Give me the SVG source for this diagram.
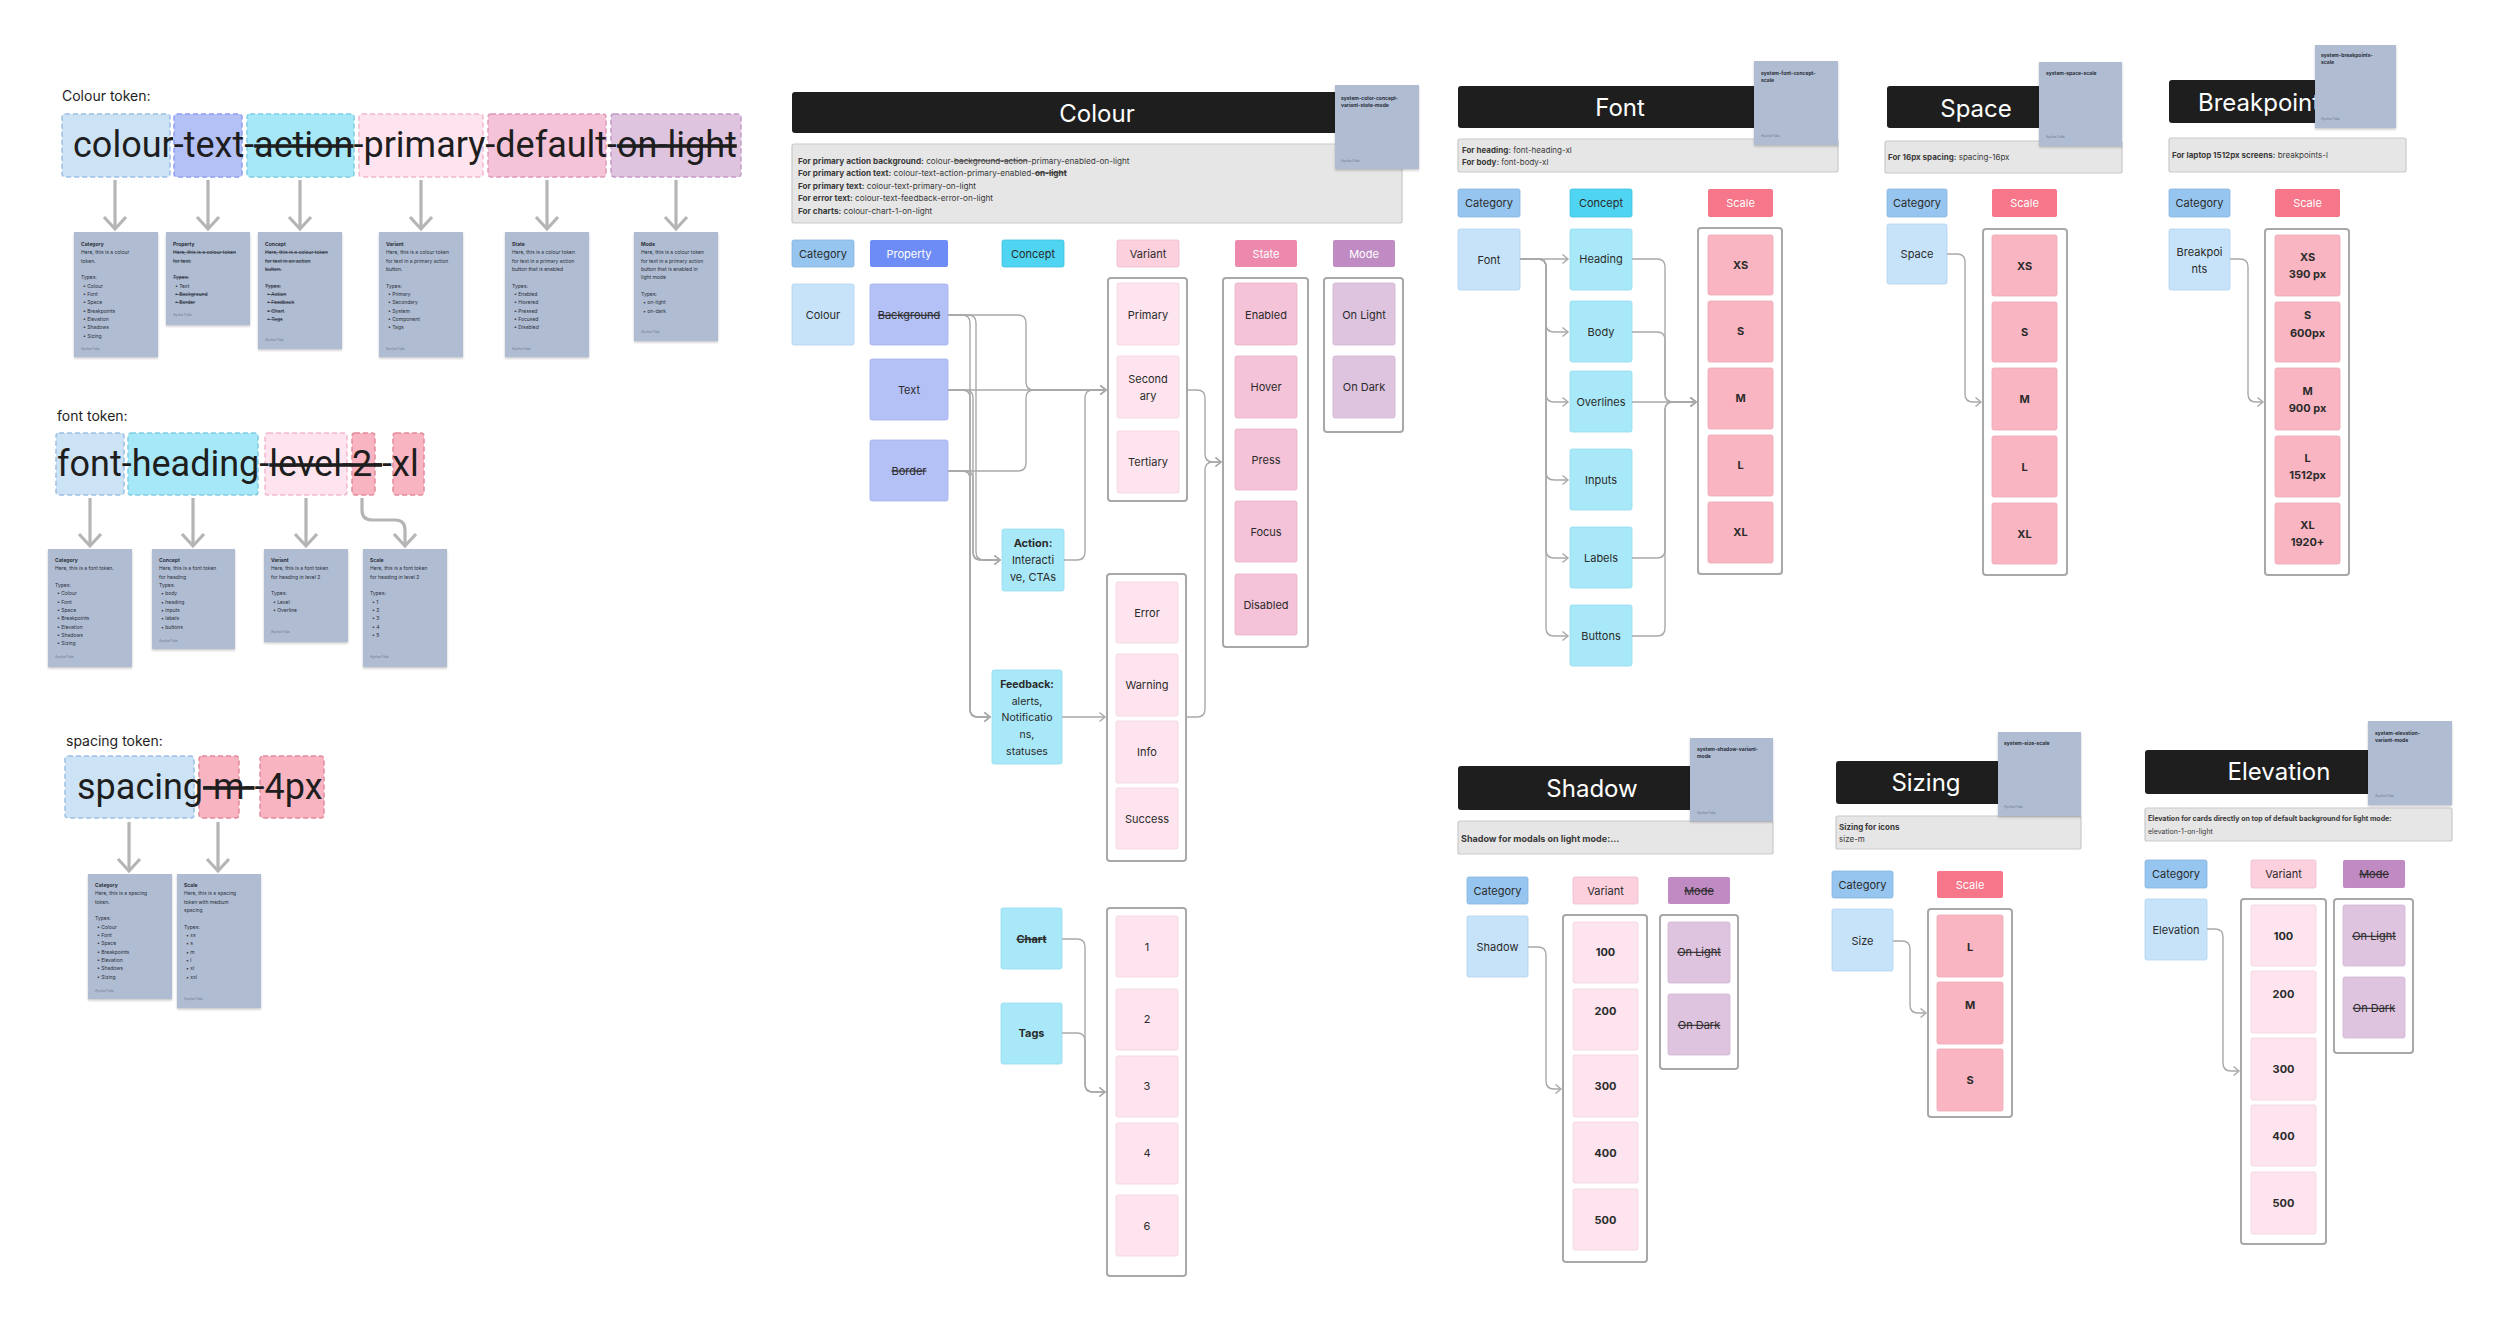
<svg xmlns="http://www.w3.org/2000/svg" width="2500" height="1322" viewBox="0 0 2500 1322">
<defs>
<style>
text{font-family:Inter,"Noto Sans","Liberation Sans",sans-serif;}
.ttl{font-size:14px;fill:#1e1e1e}
.big{font-family:Roboto,"Liberation Sans",sans-serif;font-size:36px;fill:#1e1e1e}
.s{text-decoration:line-through}
.b{font-weight:700}
.card{fill:#afbcd2;filter:url(#sh)}
.ct{font-size:5px;fill:#2a2f3a}
.au{font-size:3.6px;fill:#6f7a8d;font-weight:400}
.tok{stroke-width:1.5;stroke-dasharray:5 3}
.hdr{fill:#1e1e1e}
.ht{font-size:24px;fill:#ffffff;text-anchor:middle}
.desc{fill:#e6e6e6;stroke:#c9c9c9;stroke-width:1.2}
.dt{font-size:8px;fill:#3a3a3a}
.frame{fill:#ffffff;stroke:#a8a8a8;stroke-width:2}
.lbl{font-size:11px;fill:#2b2b2b;text-anchor:middle}
.lw{font-size:11px;fill:#ffffff;text-anchor:middle}
.cat{fill:#c6e3fa;stroke:#b2d2ee;stroke-width:.8}
.cath{fill:#96c5ef;stroke:#86b4de;stroke-width:.8}
.prop{fill:#b4c1f7;stroke:#a3b1ee;stroke-width:.8}
.proph{fill:#6d8cf5}
.con{fill:#a8e8f8;stroke:#95dcef;stroke-width:.8}
.conh{fill:#4fd4f2;stroke:#3fc3e1;stroke-width:.8}
.var{fill:#fde4ee;stroke:#f3d2df;stroke-width:.8}
.varh{fill:#fdd0de;stroke:#eebccd;stroke-width:.8}
.st{fill:#f4c3d8;stroke:#e9b2ca;stroke-width:.8}
.sth{fill:#ee89ae}
.md{fill:#dfc4e0;stroke:#d2b4d4;stroke-width:.8}
.mdh{fill:#c08bc3}
.sc{fill:#f9b6c2;stroke:#eea7b4;stroke-width:.8}
.sch{fill:#f6768a}
.sys{font-size:5px;fill:#2a2f3a;font-weight:700}
.c{fill:none;stroke:#a9a9a9;stroke-width:1.4}
.ba{fill:none;stroke:#b5b5b5;stroke-width:3.2}
</style>
<filter id="sh" x="-10%" y="-10%" width="120%" height="120%"><feDropShadow dx="0" dy="1.5" stdDeviation="1.2" flood-opacity="0.22"/></filter>
<marker id="ah" markerUnits="userSpaceOnUse" markerWidth="12" markerHeight="12" viewBox="-8 -6 10 12" refX="0" refY="0" orient="auto"><path d="M-5.5,-4.5 L0,0 L-5.5,4.5" fill="none" stroke="#a9a9a9" stroke-width="1.4"/></marker>
<marker id="bh" markerUnits="userSpaceOnUse" markerWidth="30" markerHeight="30" viewBox="-16 -15 18 30" refX="0" refY="0" orient="auto"><path d="M-12,-11 L0,0 L-12,11" fill="none" stroke="#b5b5b5" stroke-width="3.2"/></marker>
</defs>
<rect width="2500" height="1322" fill="#ffffff"/>

<!-- ===== Colour token ===== -->
<g id="colour-token">
<text class="ttl" x="62" y="101">Colour token:</text>
<rect class="tok" x="62" y="114" width="108" height="63" rx="3" fill="#cce3f6" stroke="#9dbfe2"/>
<rect class="tok" x="174" y="114" width="68" height="63" rx="3" fill="#b4c1f7" stroke="#8f9ff0"/>
<rect class="tok" x="247" y="114" width="107" height="63" rx="3" fill="#a6e8f8" stroke="#7fcde2"/>
<rect class="tok" x="359" y="114" width="124" height="63" rx="3" fill="#fde4ee" stroke="#f3b6cd"/>
<rect class="tok" x="488" y="114" width="118" height="63" rx="3" fill="#f4c3d8" stroke="#df98b8"/>
<rect class="tok" x="611" y="114" width="130" height="63" rx="3" fill="#dfc4e0" stroke="#c39bc6"/>
<text class="big" x="73" y="157">colour-text-<tspan class="s">action</tspan>-primary-default-<tspan class="s">on-light</tspan></text>
</g>
<g id="ct-card-category"><rect class="card" x="74" y="232" width="84" height="125"/>
<text class="ct"><tspan x="81" y="246" class="b">Category</tspan><tspan x="81" y="254.3">Here, this is a colour</tspan><tspan x="81" y="262.7">token.</tspan><tspan x="81" y="279.3">Types:</tspan><tspan x="83" y="287.7">• Colour</tspan><tspan x="83" y="296">• Font</tspan><tspan x="83" y="304.3">• Space</tspan><tspan x="83" y="312.7">• Breakpoints</tspan><tspan x="83" y="321">• Elevation</tspan><tspan x="83" y="329.3">• Shadows</tspan><tspan x="83" y="337.7">• Sizing</tspan><tspan x="81" y="349.5" class="au">Aysha Fida</tspan></text></g>
<g id="ct-card-property"><rect class="card" x="166" y="232" width="84" height="93"/>
<text class="ct"><tspan x="173" y="246" class="b">Property</tspan><tspan x="173" y="254.3" class="s">Here, this is a colour token</tspan><tspan x="173" y="262.7" class="s">for text.</tspan><tspan x="173" y="279.3" class="s">Types:</tspan><tspan x="175" y="287.7">• Text</tspan><tspan x="175" y="296" class="s">• Background</tspan><tspan x="175" y="304.3" class="s">• Border</tspan><tspan x="173" y="316" class="au">Aysha Fida</tspan></text></g>
<g id="ct-card-concept"><rect class="card" x="258" y="232" width="84" height="117"/>
<text class="ct"><tspan x="265" y="246" class="b">Concept</tspan><tspan x="265" y="254.3" class="s">Here, this is a colour token</tspan><tspan x="265" y="262.7" class="s">for text in an action</tspan><tspan x="265" y="271" class="s">button.</tspan><tspan x="265" y="287.7" class="s">Types:</tspan><tspan x="267" y="296" class="s">• Action</tspan><tspan x="267" y="304.3" class="s">• Feedback</tspan><tspan x="267" y="312.7" class="s">• Chart</tspan><tspan x="267" y="321" class="s">• Tags</tspan><tspan x="265" y="341" class="au">Aysha Fida</tspan></text></g>
<g id="ct-card-variant"><rect class="card" x="379" y="232" width="84" height="125"/>
<text class="ct"><tspan x="386" y="246" class="b">Variant</tspan><tspan x="386" y="254.3">Here, this is a colour token</tspan><tspan x="386" y="262.7">for text in a primary action</tspan><tspan x="386" y="271">button.</tspan><tspan x="386" y="287.7">Types:</tspan><tspan x="388" y="296">• Primary</tspan><tspan x="388" y="304.3">• Secondary</tspan><tspan x="388" y="312.7">• System</tspan><tspan x="388" y="321">• Component</tspan><tspan x="388" y="329.3">• Tags</tspan><tspan x="386" y="349.5" class="au">Aysha Fida</tspan></text></g>
<g id="ct-card-state"><rect class="card" x="505" y="232" width="84" height="125"/>
<text class="ct"><tspan x="512" y="246" class="b">State</tspan><tspan x="512" y="254.3">Here, this is a colour token</tspan><tspan x="512" y="262.7">for text in a primary action</tspan><tspan x="512" y="271">button that is enabled</tspan><tspan x="512" y="287.7">Types:</tspan><tspan x="514" y="296">• Enabled</tspan><tspan x="514" y="304.3">• Hovered</tspan><tspan x="514" y="312.7">• Pressed</tspan><tspan x="514" y="321">• Focused</tspan><tspan x="514" y="329.3">• Disabled</tspan><tspan x="512" y="349.5" class="au">Aysha Fida</tspan></text></g>
<g id="ct-card-mode"><rect class="card" x="634" y="232" width="84" height="109"/>
<text class="ct"><tspan x="641" y="246" class="b">Mode</tspan><tspan x="641" y="254.3">Here, this is a colour token</tspan><tspan x="641" y="262.7">for text in a primary action</tspan><tspan x="641" y="271">button that is enabled in</tspan><tspan x="641" y="279.3">light mode</tspan><tspan x="641" y="296">Types:</tspan><tspan x="643" y="304.3">• on-light</tspan><tspan x="643" y="312.7">• on-dark</tspan><tspan x="641" y="333" class="au">Aysha Fida</tspan></text></g>

<!-- ===== font token ===== -->
<g id="font-token">
<text class="ttl" x="57" y="421">font token:</text>
<rect class="tok" x="56" y="433" width="68" height="62" rx="3" fill="#cce3f6" stroke="#9dbfe2"/>
<rect class="tok" x="128" y="433" width="130" height="62" rx="3" fill="#a6e8f8" stroke="#7fcde2"/>
<rect class="tok" x="265" y="433" width="82" height="62" rx="3" fill="#fde4ee" stroke="#f3b6cd"/>
<rect class="tok" x="352" y="433" width="23" height="62" rx="3" fill="#f8b4c0" stroke="#e2899b"/>
<rect class="tok" x="393" y="433" width="31" height="62" rx="3" fill="#f8b4c0" stroke="#e2899b"/>
<text class="big" x="57" y="476">font-heading-<tspan class="s">level-2-</tspan>-xl</text>
</g>
<g id="ft-card-category"><rect class="card" x="48" y="549" width="84" height="118"/>
<text class="ct"><tspan x="55" y="562" class="b">Category</tspan><tspan x="55" y="570.3">Here, this is a font token.</tspan><tspan x="55" y="587">Types:</tspan><tspan x="57" y="595.3">• Colour</tspan><tspan x="57" y="603.7">• Font</tspan><tspan x="57" y="612">• Space</tspan><tspan x="57" y="620.3">• Breakpoints</tspan><tspan x="57" y="628.7">• Elevation</tspan><tspan x="57" y="637">• Shadows</tspan><tspan x="57" y="645.3">• Sizing</tspan><tspan x="55" y="658" class="au">Aysha Fida</tspan></text></g>
<g id="ft-card-concept"><rect class="card" x="152" y="549" width="83" height="100"/>
<text class="ct"><tspan x="159" y="562" class="b">Concept</tspan><tspan x="159" y="570.3">Here, this is a font token</tspan><tspan x="159" y="578.7">for heading</tspan><tspan x="159" y="587">Types:</tspan><tspan x="161" y="595.3">• body</tspan><tspan x="161" y="603.7">• heading</tspan><tspan x="161" y="612">• inputs</tspan><tspan x="161" y="620.3">• labels</tspan><tspan x="161" y="628.7">• buttons</tspan><tspan x="159" y="641.5" class="au">Aysha Fida</tspan></text></g>
<g id="ft-card-variant"><rect class="card" x="264" y="549" width="84" height="93"/>
<text class="ct"><tspan x="271" y="562" class="b">Variant</tspan><tspan x="271" y="570.3">Here, this is a font token</tspan><tspan x="271" y="578.7">for heading in level 2</tspan><tspan x="271" y="595.3">Types:</tspan><tspan x="273" y="603.7">• Level</tspan><tspan x="273" y="612">• Overline</tspan><tspan x="271" y="633" class="au">Aysha Fida</tspan></text></g>
<g id="ft-card-scale"><rect class="card" x="363" y="549" width="84" height="118"/>
<text class="ct"><tspan x="370" y="562" class="b">Scale</tspan><tspan x="370" y="570.3">Here, this is a font token</tspan><tspan x="370" y="578.7">for heading in level 2</tspan><tspan x="370" y="595.3">Types:</tspan><tspan x="372" y="603.7">• 1</tspan><tspan x="372" y="612">• 2</tspan><tspan x="372" y="620.3">• 3</tspan><tspan x="372" y="628.7">• 4</tspan><tspan x="372" y="637">• 5</tspan><tspan x="370" y="658" class="au">Aysha Fida</tspan></text></g>

<!-- ===== spacing token ===== -->
<g id="spacing-token">
<text class="ttl" x="66" y="746">spacing token:</text>
<rect class="tok" x="65" y="756" width="129" height="62" rx="3" fill="#cce3f6" stroke="#9dbfe2"/>
<rect class="tok" x="199" y="756" width="40" height="62" rx="3" fill="#f8b4c0" stroke="#e2899b"/>
<rect class="tok" x="260" y="756" width="64" height="62" rx="3" fill="#f8b4c0" stroke="#e2899b"/>
<text class="big" x="77" y="799">spacing<tspan class="s">-m-</tspan>-4px</text>
</g>
<g id="sp-card-category"><rect class="card" x="88" y="874" width="84" height="125"/>
<text class="ct"><tspan x="95" y="887" class="b">Category</tspan><tspan x="95" y="895.3">Here, this is a spacing</tspan><tspan x="95" y="903.7">token.</tspan><tspan x="95" y="920.3">Types:</tspan><tspan x="97" y="928.7">• Colour</tspan><tspan x="97" y="937">• Font</tspan><tspan x="97" y="945.3">• Space</tspan><tspan x="97" y="953.7">• Breakpoints</tspan><tspan x="97" y="962">• Elevation</tspan><tspan x="97" y="970.3">• Shadows</tspan><tspan x="97" y="978.7">• Sizing</tspan><tspan x="95" y="991.5" class="au">Aysha Fida</tspan></text></g>
<g id="sp-card-scale"><rect class="card" x="177" y="874" width="84" height="134"/>
<text class="ct"><tspan x="184" y="887" class="b">Scale</tspan><tspan x="184" y="895.3">Here, this is a spacing</tspan><tspan x="184" y="903.7">token with medium</tspan><tspan x="184" y="912">spacing</tspan><tspan x="184" y="928.7">Types:</tspan><tspan x="186" y="937">• xs</tspan><tspan x="186" y="945.3">• s</tspan><tspan x="186" y="953.7">• m</tspan><tspan x="186" y="962">• l</tspan><tspan x="186" y="970.3">• xl</tspan><tspan x="186" y="978.7">• xxl</tspan><tspan x="184" y="1000" class="au">Aysha Fida</tspan></text></g>

<!-- ===== Colour section ===== -->
<g id="colour-header"><rect class="hdr" x="792" y="92" width="610" height="41" rx="3"/><text class="ht" x="1097" y="122">Colour</text></g>
<g id="colour-desc"><rect class="desc" x="792" y="144" width="610" height="79" rx="2"/>
<text class="dt" style="font-size:8.2px"><tspan x="798" y="163.5"><tspan class="b">For primary action background:</tspan> colour-<tspan class="s">background-action</tspan>-primary-enabled-on-light</tspan><tspan x="798" y="175.5"><tspan class="b">For primary action text:</tspan> colour-text-action-primary-enabled-<tspan class="s b">on-light</tspan></tspan><tspan x="798" y="188.5"><tspan class="b">For primary text:</tspan> colour-text-primary-on-light</tspan><tspan x="798" y="200.5"><tspan class="b">For error text:</tspan> colour-text-feedback-error-on-light</tspan><tspan x="798" y="213.5"><tspan class="b">For charts:</tspan> colour-chart-1-on-light</tspan></text></g>
<g id="colour-sys"><rect class="card" x="1335" y="85" width="84" height="84"/><text class="sys"><tspan x="1341" y="100">system-color-concept-</tspan><tspan x="1341" y="107">variant-state-mode</tspan><tspan x="1341" y="162" class="au">Aysha Fida</tspan></text></g>
<g id="c-h-category"><rect class="cath" x="792" y="240" width="62" height="27" rx="2"/><text class="lbl" x="823" y="257.5">Category</text></g>
<g id="c-h-property"><rect class="proph" x="870" y="240" width="78" height="27" rx="2"/><text class="lw" x="909" y="257.5">Property</text></g>
<g id="c-h-concept"><rect class="conh" x="1002" y="240" width="62" height="27" rx="2"/><text class="lbl" x="1033" y="257.5">Concept</text></g>
<g id="c-h-variant"><rect class="varh" x="1117" y="240" width="62" height="27" rx="2"/><text class="lbl" x="1148" y="257.5">Variant</text></g>
<g id="c-h-state"><rect class="sth" x="1235" y="240" width="62" height="27" rx="2"/><text class="lw" x="1266" y="257.5">State</text></g>
<g id="c-h-mode"><rect class="mdh" x="1333" y="240" width="62" height="27" rx="2"/><text class="lw" x="1364" y="257.5">Mode</text></g>
<g id="c-colour"><rect class="cat" x="792" y="284" width="62" height="61" rx="2"/><text class="lbl" x="823" y="319">Colour</text></g>
<g id="c-background"><rect class="prop" x="870" y="284" width="78" height="61" rx="2"/><text class="lbl s" x="909" y="319">Background</text></g>
<g id="c-text"><rect class="prop" x="870" y="359" width="78" height="61" rx="2"/><text class="lbl" x="909" y="394">Text</text></g>
<g id="c-border"><rect class="prop" x="870" y="440" width="78" height="61" rx="2"/><text class="lbl s" x="909" y="474.7">Border</text></g>
<g id="c-action"><rect class="con" x="1002" y="529" width="62" height="62" rx="2"/><text class="lbl"><tspan x="1033" y="547.3" class="b">Action:</tspan><tspan x="1033" y="564">Interacti</tspan><tspan x="1033" y="580.7">ve, CTAs</tspan></text></g>
<g id="c-feedback"><rect class="con" x="992" y="670" width="70" height="94" rx="2"/><text class="lbl" style="font-size:10.5px"><tspan x="1027" y="688.3" class="b">Feedback:</tspan><tspan x="1027" y="704.8">alerts,</tspan><tspan x="1027" y="721.3">Notificatio</tspan><tspan x="1027" y="738.3">ns,</tspan><tspan x="1027" y="754.8">statuses</tspan></text></g>
<g id="c-chart"><rect class="con" x="1001" y="908" width="61" height="61" rx="2"/><text class="lbl b s" x="1031.5" y="943">Chart</text></g>
<g id="c-tags"><rect class="con" x="1001" y="1003" width="61" height="61" rx="2"/><text class="lbl b" x="1031.5" y="1037.4">Tags</text></g>
<g id="c-variant-group1"><rect class="frame" x="1108" y="278" width="79" height="223" rx="3"/>
<rect class="var" x="1117" y="283" width="62" height="62" rx="2"/><text class="lbl" x="1148" y="319">Primary</text>
<rect class="var" x="1117" y="356" width="62" height="62" rx="2"/><text class="lbl"><tspan x="1148" y="383">Second</tspan><tspan x="1148" y="399.7">ary</tspan></text>
<rect class="var" x="1117" y="431" width="62" height="62" rx="2"/><text class="lbl" x="1148" y="466.3">Tertiary</text></g>
<g id="c-variant-group2"><rect class="frame" x="1107" y="574" width="79" height="287" rx="3"/>
<rect class="var" x="1116" y="582" width="62" height="61" rx="2"/><text class="lbl" x="1147" y="616.8">Error</text>
<rect class="var" x="1116" y="654" width="62" height="62" rx="2"/><text class="lbl" x="1147" y="689.2">Warning</text>
<rect class="var" x="1116" y="721" width="62" height="62" rx="2"/><text class="lbl" x="1147" y="756">Info</text>
<rect class="var" x="1116" y="788" width="62" height="61" rx="2"/><text class="lbl" x="1147" y="823">Success</text></g>
<g id="c-variant-group3"><rect class="frame" x="1107" y="908" width="79" height="368" rx="3"/>
<rect class="var" x="1116" y="916" width="62" height="61" rx="2"/><text class="lbl" x="1147" y="951">1</text>
<rect class="var" x="1116" y="989" width="62" height="61" rx="2"/><text class="lbl" x="1147" y="1023">2</text>
<rect class="var" x="1116" y="1056" width="62" height="61" rx="2"/><text class="lbl" x="1147" y="1090">3</text>
<rect class="var" x="1116" y="1123" width="62" height="61" rx="2"/><text class="lbl" x="1147" y="1157">4</text>
<rect class="var" x="1116" y="1195" width="62" height="61" rx="2"/><text class="lbl" x="1147" y="1229.6">6</text></g>
<g id="c-state-group"><rect class="frame" x="1223" y="278" width="85" height="369" rx="3"/>
<rect class="st" x="1235" y="283" width="62" height="62" rx="2"/><text class="lbl" x="1266" y="319">Enabled</text>
<rect class="st" x="1235" y="356" width="62" height="62" rx="2"/><text class="lbl" x="1266" y="391.3">Hover</text>
<rect class="st" x="1235" y="429" width="62" height="61" rx="2"/><text class="lbl" x="1266" y="464">Press</text>
<rect class="st" x="1235" y="501" width="62" height="61" rx="2"/><text class="lbl" x="1266" y="536.3">Focus</text>
<rect class="st" x="1235" y="574" width="62" height="61" rx="2"/><text class="lbl" x="1266" y="609">Disabled</text></g>
<g id="c-mode-group"><rect class="frame" x="1324" y="278" width="79" height="154" rx="3"/>
<rect class="md" x="1333" y="283" width="62" height="62" rx="2"/><text class="lbl" x="1364" y="319">On Light</text>
<rect class="md" x="1333" y="356" width="62" height="62" rx="2"/><text class="lbl" x="1364" y="391.3">On Dark</text></g>

<!-- ===== Font section ===== -->
<g id="font-header"><rect class="hdr" x="1458" y="86" width="300" height="42" rx="3"/><text class="ht" x="1620" y="116">Font</text></g>
<g id="font-desc"><rect class="desc" x="1458" y="139" width="380" height="33" rx="2"/><text class="dt"><tspan x="1462" y="152.5"><tspan class="b">For heading:</tspan> font-heading-xl</tspan><tspan x="1462" y="165"><tspan class="b">For body:</tspan> font-body-xl</tspan></text></g>
<g id="font-sys"><rect class="card" x="1754" y="61" width="84" height="84"/><text class="sys"><tspan x="1761" y="75">system-font-concept-</tspan><tspan x="1761" y="82">scale</tspan><tspan x="1761" y="137" class="au">Aysha Fida</tspan></text></g>
<g id="f-h-category"><rect class="cath" x="1458" y="189" width="62" height="28" rx="2"/><text class="lbl" x="1489" y="207">Category</text></g>
<g id="f-h-concept"><rect class="conh" x="1570" y="189" width="62" height="28" rx="2"/><text class="lbl" x="1601" y="207">Concept</text></g>
<g id="f-h-scale"><rect class="sch" x="1708" y="189" width="65" height="28" rx="2"/><text class="lw" x="1740.5" y="207">Scale</text></g>
<g id="f-font"><rect class="cat" x="1458" y="229" width="62" height="61" rx="2"/><text class="lbl" x="1489" y="263.5">Font</text></g>
<g id="f-heading"><rect class="con" x="1570" y="229" width="62" height="61" rx="2"/><text class="lbl" x="1601" y="263">Heading</text></g>
<g id="f-body"><rect class="con" x="1570" y="301" width="62" height="61" rx="2"/><text class="lbl" x="1601" y="335.5">Body</text></g>
<g id="f-overlines"><rect class="con" x="1570" y="371" width="62" height="61" rx="2"/><text class="lbl" x="1601" y="405.5">Overlines</text></g>
<g id="f-inputs"><rect class="con" x="1570" y="449" width="62" height="61" rx="2"/><text class="lbl" x="1601" y="483.5">Inputs</text></g>
<g id="f-labels"><rect class="con" x="1570" y="527" width="62" height="61" rx="2"/><text class="lbl" x="1601" y="561.5">Labels</text></g>
<g id="f-buttons"><rect class="con" x="1570" y="605" width="62" height="61" rx="2"/><text class="lbl" x="1601" y="639.5">Buttons</text></g>
<g id="f-scale-group"><rect class="frame" x="1698" y="228" width="84" height="346" rx="3"/>
<rect class="sc" x="1708" y="235" width="65" height="60" rx="2"/><text class="lbl b" x="1740.5" y="269">XS</text>
<rect class="sc" x="1708" y="301" width="65" height="61" rx="2"/><text class="lbl b" x="1740.5" y="335">S</text>
<rect class="sc" x="1708" y="368" width="65" height="61" rx="2"/><text class="lbl b" x="1740.5" y="402">M</text>
<rect class="sc" x="1708" y="435" width="65" height="61" rx="2"/><text class="lbl b" x="1740.5" y="469">L</text>
<rect class="sc" x="1708" y="502" width="65" height="61" rx="2"/><text class="lbl b" x="1740.5" y="536">XL</text></g>

<!-- ===== Space section ===== -->
<g id="space-header"><rect class="hdr" x="1887" y="86" width="160" height="42" rx="3"/><text class="ht" x="1976" y="117">Space</text></g>
<g id="space-desc"><rect class="desc" x="1885" y="141" width="237" height="32" rx="2"/><text class="dt" x="1888" y="159.5"><tspan class="b">For 16px spacing:</tspan> spacing-16px</text></g>
<g id="space-sys"><rect class="card" x="2039" y="62" width="83" height="84"/><text class="sys"><tspan x="2046" y="75">system-space-scale</tspan><tspan x="2046" y="138" class="au">Aysha Fida</tspan></text></g>
<g id="s-h-category"><rect class="cath" x="1887" y="189" width="60" height="28" rx="2"/><text class="lbl" x="1917" y="207">Category</text></g>
<g id="s-h-scale"><rect class="sch" x="1992" y="189" width="65" height="28" rx="2"/><text class="lw" x="2024.5" y="207">Scale</text></g>
<g id="s-space"><rect class="cat" x="1887" y="224" width="60" height="60" rx="2"/><text class="lbl" x="1917" y="258">Space</text></g>
<g id="s-scale-group"><rect class="frame" x="1983" y="229" width="84" height="346" rx="3"/>
<rect class="sc" x="1992" y="235" width="65" height="61" rx="2"/><text class="lbl b" x="2024.5" y="269.5">XS</text>
<rect class="sc" x="1992" y="302" width="65" height="60" rx="2"/><text class="lbl b" x="2024.5" y="336">S</text>
<rect class="sc" x="1992" y="368" width="65" height="62" rx="2"/><text class="lbl b" x="2024.5" y="403">M</text>
<rect class="sc" x="1992" y="436" width="65" height="61" rx="2"/><text class="lbl b" x="2024.5" y="470.5">L</text>
<rect class="sc" x="1992" y="503" width="65" height="61" rx="2"/><text class="lbl b" x="2024.5" y="537.5">XL</text></g>

<!-- ===== Breakpoints section ===== -->
<g id="bp-header"><rect class="hdr" x="2169" y="80" width="150" height="43" rx="3"/><text class="ht" x="2198" y="111" style="text-anchor:start">Breakpoints</text></g>
<g id="bp-desc"><rect class="desc" x="2169" y="138" width="237" height="34" rx="2"/><text class="dt" x="2172" y="157.5"><tspan class="b">For laptop 1512px screens:</tspan> breakpoints-l</text></g>
<g id="bp-sys"><rect class="card" x="2315" y="45" width="81" height="83"/><text class="sys"><tspan x="2321" y="57">system-breakpoints-</tspan><tspan x="2321" y="64">scale</tspan><tspan x="2321" y="120" class="au">Aysha Fida</tspan></text></g>
<g id="b-h-category"><rect class="cath" x="2169" y="189" width="61" height="28" rx="2"/><text class="lbl" x="2199.5" y="207">Category</text></g>
<g id="b-h-scale"><rect class="sch" x="2275" y="189" width="65" height="28" rx="2"/><text class="lw" x="2307.5" y="207">Scale</text></g>
<g id="b-breakpoints"><rect class="cat" x="2169" y="229" width="61" height="61" rx="2"/><text class="lbl"><tspan x="2199.5" y="255.5">Breakpoi</tspan><tspan x="2199.5" y="272.5">nts</tspan></text></g>
<g id="b-scale-group"><rect class="frame" x="2265" y="229" width="84" height="346" rx="3"/>
<rect class="sc" x="2275" y="235" width="65" height="61" rx="2"/><text class="lbl b"><tspan x="2307.5" y="261">XS</tspan><tspan x="2307.5" y="278">390 px</tspan></text>
<rect class="sc" x="2275" y="302" width="65" height="60" rx="2"/><text class="lbl b"><tspan x="2307.5" y="319">S</tspan><tspan x="2307.5" y="337">600px</tspan></text>
<rect class="sc" x="2275" y="368" width="65" height="62" rx="2"/><text class="lbl b"><tspan x="2307.5" y="394.5">M</tspan><tspan x="2307.5" y="412">900 px</tspan></text>
<rect class="sc" x="2275" y="436" width="65" height="61" rx="2"/><text class="lbl b"><tspan x="2307.5" y="462">L</tspan><tspan x="2307.5" y="479">1512px</tspan></text>
<rect class="sc" x="2275" y="503" width="65" height="61" rx="2"/><text class="lbl b"><tspan x="2307.5" y="528.7">XL</tspan><tspan x="2307.5" y="546">1920+</tspan></text></g>

<!-- ===== Shadow section ===== -->
<g id="shadow-header"><rect class="hdr" x="1458" y="766" width="236" height="44" rx="3"/><text class="ht" x="1592" y="796.5">Shadow</text></g>
<g id="shadow-desc"><rect class="desc" x="1458" y="821" width="315" height="33" rx="2"/><text class="dt b" x="1461" y="842" style="font-size:9px">Shadow for modals on light mode:...</text></g>
<g id="shadow-sys"><rect class="card" x="1690" y="738" width="83" height="83"/><text class="sys"><tspan x="1697" y="751">system-shadow-variant-</tspan><tspan x="1697" y="758">mode</tspan><tspan x="1697" y="814" class="au">Aysha Fida</tspan></text></g>
<g id="sh-h-category"><rect class="cath" x="1467" y="877" width="61" height="27" rx="2"/><text class="lbl" x="1497.5" y="894.5">Category</text></g>
<g id="sh-h-variant"><rect class="varh" x="1573" y="877" width="65" height="27" rx="2"/><text class="lbl" x="1605.5" y="894.5">Variant</text></g>
<g id="sh-h-mode"><rect class="mdh" x="1668" y="877" width="62" height="27" rx="2"/><text class="lbl s" x="1699" y="894.5">Mode</text></g>
<g id="sh-shadow"><rect class="cat" x="1467" y="916" width="61" height="61" rx="2"/><text class="lbl" x="1497.5" y="950.5">Shadow</text></g>
<g id="sh-variant-group"><rect class="frame" x="1563" y="915" width="84" height="347" rx="3"/>
<rect class="var" x="1573" y="922" width="65" height="61" rx="2"/><text class="lbl b" x="1605.5" y="956">100</text>
<rect class="var" x="1573" y="989" width="65" height="61" rx="2"/><text class="lbl b" x="1605.5" y="1015">200</text>
<rect class="var" x="1573" y="1055" width="65" height="62" rx="2"/><text class="lbl b" x="1605.5" y="1090">300</text>
<rect class="var" x="1573" y="1122" width="65" height="61" rx="2"/><text class="lbl b" x="1605.5" y="1157">400</text>
<rect class="var" x="1573" y="1189" width="65" height="61" rx="2"/><text class="lbl b" x="1605.5" y="1224">500</text></g>
<g id="sh-mode-group"><rect class="frame" x="1660" y="915" width="78" height="154" rx="3"/>
<rect class="md" x="1668" y="922" width="62" height="61" rx="2"/><text class="lbl s" x="1699" y="956">On Light</text>
<rect class="md" x="1668" y="994" width="62" height="61" rx="2"/><text class="lbl s" x="1699" y="1029">On Dark</text></g>

<!-- ===== Sizing section ===== -->
<g id="sizing-header"><rect class="hdr" x="1836" y="761" width="166" height="43" rx="3"/><text class="ht" x="1926" y="791">Sizing</text></g>
<g id="sizing-desc"><rect class="desc" x="1836" y="816" width="245" height="33" rx="2"/><text class="dt"><tspan x="1839" y="829.5" class="b">Sizing for icons</tspan><tspan x="1839" y="841.5">size-m</tspan></text></g>
<g id="sizing-sys"><rect class="card" x="1998" y="732" width="83" height="84"/><text class="sys"><tspan x="2004" y="745">system-size-scale</tspan><tspan x="2004" y="808" class="au">Aysha Fida</tspan></text></g>
<g id="sz-h-category"><rect class="cath" x="1832" y="871" width="61" height="27" rx="2"/><text class="lbl" x="1862.5" y="888.5">Category</text></g>
<g id="sz-h-scale"><rect class="sch" x="1937" y="871" width="66" height="27" rx="2"/><text class="lw" x="1970" y="888.5">Scale</text></g>
<g id="sz-size"><rect class="cat" x="1832" y="909" width="61" height="62" rx="2"/><text class="lbl" x="1862.5" y="944.7">Size</text></g>
<g id="sz-scale-group"><rect class="frame" x="1928" y="909" width="84" height="208" rx="3"/>
<rect class="sc" x="1937" y="915" width="66" height="62" rx="2"/><text class="lbl b" x="1970" y="950.7">L</text>
<rect class="sc" x="1937" y="982" width="66" height="62" rx="2"/><text class="lbl b" x="1970" y="1009">M</text>
<rect class="sc" x="1937" y="1049" width="66" height="62" rx="2"/><text class="lbl b" x="1970" y="1084">S</text></g>

<!-- ===== Elevation section ===== -->
<g id="elevation-header"><rect class="hdr" x="2145" y="750" width="226" height="44" rx="3"/><text class="ht" x="2279" y="780">Elevation</text></g>
<g id="elevation-desc"><rect class="desc" x="2145" y="808" width="307" height="33" rx="2"/><text class="dt" style="font-size:7px"><tspan x="2148" y="821" class="b">Elevation for cards directly on top of  default background for light mode:</tspan><tspan x="2148" y="834">elevation-1-on-light</tspan></text></g>
<g id="elevation-sys"><rect class="card" x="2368" y="721" width="84" height="84"/><text class="sys"><tspan x="2375" y="735">system-elevation-</tspan><tspan x="2375" y="742">variant-mode</tspan><tspan x="2375" y="797" class="au">Aysha Fida</tspan></text></g>
<g id="el-h-category"><rect class="cath" x="2145" y="860" width="62" height="28" rx="2"/><text class="lbl" x="2176" y="878">Category</text></g>
<g id="el-h-variant"><rect class="varh" x="2251" y="860" width="65" height="28" rx="2"/><text class="lbl" x="2283.5" y="878">Variant</text></g>
<g id="el-h-mode"><rect class="mdh" x="2343" y="860" width="62" height="28" rx="2"/><text class="lbl s" x="2374" y="878">Mode</text></g>
<g id="el-elevation"><rect class="cat" x="2145" y="899" width="62" height="61" rx="2"/><text class="lbl" x="2176" y="934">Elevation</text></g>
<g id="el-variant-group"><rect class="frame" x="2241" y="899" width="85" height="345" rx="3"/>
<rect class="var" x="2251" y="905" width="65" height="61" rx="2"/><text class="lbl b" x="2283.5" y="940">100</text>
<rect class="var" x="2251" y="971" width="65" height="62" rx="2"/><text class="lbl b" x="2283.5" y="998">200</text>
<rect class="var" x="2251" y="1038" width="65" height="62" rx="2"/><text class="lbl b" x="2283.5" y="1073">300</text>
<rect class="var" x="2251" y="1105" width="65" height="61" rx="2"/><text class="lbl b" x="2283.5" y="1140">400</text>
<rect class="var" x="2251" y="1172" width="65" height="62" rx="2"/><text class="lbl b" x="2283.5" y="1207">500</text></g>
<g id="el-mode-group"><rect class="frame" x="2334" y="899" width="79" height="154" rx="3"/>
<rect class="md" x="2343" y="905" width="62" height="61" rx="2"/><text class="lbl s" x="2374" y="940">On Light</text>
<rect class="md" x="2343" y="977" width="62" height="61" rx="2"/><text class="lbl s" x="2374" y="1012">On Dark</text></g>

<!-- ===== Connectors ===== -->
<g id="connectors">
<g id="token-arrows" marker-end="url(#bh)">
<path class="ba" d="M115,180 V229"/>
<path class="ba" d="M208,180 V229"/>
<path class="ba" d="M300,180 V229"/>
<path class="ba" d="M421,180 V229"/>
<path class="ba" d="M547,180 V229"/>
<path class="ba" d="M676,180 V229"/>
<path class="ba" d="M90,498 V546"/>
<path class="ba" d="M193,498 V546"/>
<path class="ba" d="M306,498 V546"/>
<path class="ba" d="M362,498 V510 Q362,520 372,520 H395 Q405,520 405,530 V546"/>
<path class="ba" d="M129,822 V871"/>
<path class="ba" d="M218,822 V871"/>
</g>
<g id="colour-connectors" marker-end="url(#ah)">
<path class="c" d="M948,315 H1018 Q1026,315 1026,323 V382 Q1026,390 1034,390 H1106"/>
<path class="c" d="M948,390 H1106"/>
<path class="c" d="M948,471 H1018 Q1026,471 1026,463 V398 Q1026,390 1034,390 H1106"/>
<path class="c" d="M948,315 H968 Q976,315 976,323 V552 Q976,560 984,560 H1000"/>
<path class="c" d="M948,390 H965 Q973,390 973,398 V552 Q973,560 981,560 H1000"/>
<path class="c" d="M948,471 H965 Q973,471 973,479 V552 Q973,560 981,560 H1000"/>
<path class="c" d="M948,315 H962 Q970,315 970,323 V709 Q970,717 978,717 H990"/>
<path class="c" d="M948,390 H962 Q970,390 970,398 V709 Q970,717 978,717 H990"/>
<path class="c" d="M948,471 H962 Q970,471 970,479 V709 Q970,717 978,717 H990"/>
<path class="c" d="M1064,560 H1077 Q1085,560 1085,552 V398 Q1085,390 1093,390 H1106"/>
<path class="c" d="M1062,717 H1105"/>
<path class="c" d="M1187,390 H1197 Q1205,390 1205,398 V454 Q1205,462 1213,462 H1221"/>
<path class="c" d="M1186,717 H1197 Q1205,717 1205,709 V470 Q1205,462 1213,462 H1221"/>
<path class="c" d="M1062,939 H1077 Q1085,939 1085,947 V1084 Q1085,1092 1093,1092 H1105"/>
<path class="c" d="M1062,1033 H1077 Q1085,1033 1085,1041 V1084 Q1085,1092 1093,1092 H1105"/>
</g>
<g id="font-connectors" marker-end="url(#ah)">
<path class="c" d="M1520,259 H1568"/>
<path class="c" d="M1520,259 H1538 Q1546,259 1546,267 V324 Q1546,332 1554,332 H1568"/>
<path class="c" d="M1520,259 H1538 Q1546,259 1546,267 V394 Q1546,402 1554,402 H1568"/>
<path class="c" d="M1520,259 H1538 Q1546,259 1546,267 V472 Q1546,480 1554,480 H1568"/>
<path class="c" d="M1520,259 H1538 Q1546,259 1546,267 V550 Q1546,558 1554,558 H1568"/>
<path class="c" d="M1520,259 H1538 Q1546,259 1546,267 V628 Q1546,636 1554,636 H1568"/>
<path class="c" d="M1632,259 H1657 Q1665,259 1665,267 V394 Q1665,402 1673,402 H1696"/>
<path class="c" d="M1632,332 H1657 Q1665,332 1665,340 V394 Q1665,402 1673,402 H1696"/>
<path class="c" d="M1632,402 H1696"/>
<path class="c" d="M1632,558 H1657 Q1665,558 1665,550 V410 Q1665,402 1673,402 H1696"/>
<path class="c" d="M1632,636 H1657 Q1665,636 1665,628 V410 Q1665,402 1673,402 H1696"/>
</g>
<g id="other-connectors" marker-end="url(#ah)">
<path class="c" d="M1947,254 H1957 Q1965,254 1965,262 V394 Q1965,402 1973,402 H1981"/>
<path class="c" d="M2230,259 H2240 Q2248,259 2248,267 V394 Q2248,402 2256,402 H2263"/>
<path class="c" d="M1528,947 H1538 Q1546,947 1546,955 V1081 Q1546,1089 1554,1089 H1561"/>
<path class="c" d="M1893,941 H1902 Q1910,941 1910,949 V1005 Q1910,1013 1918,1013 H1926"/>
<path class="c" d="M2207,929 H2215 Q2223,929 2223,937 V1063 Q2223,1071 2231,1071 H2239"/>
</g>
</g>
</svg>
